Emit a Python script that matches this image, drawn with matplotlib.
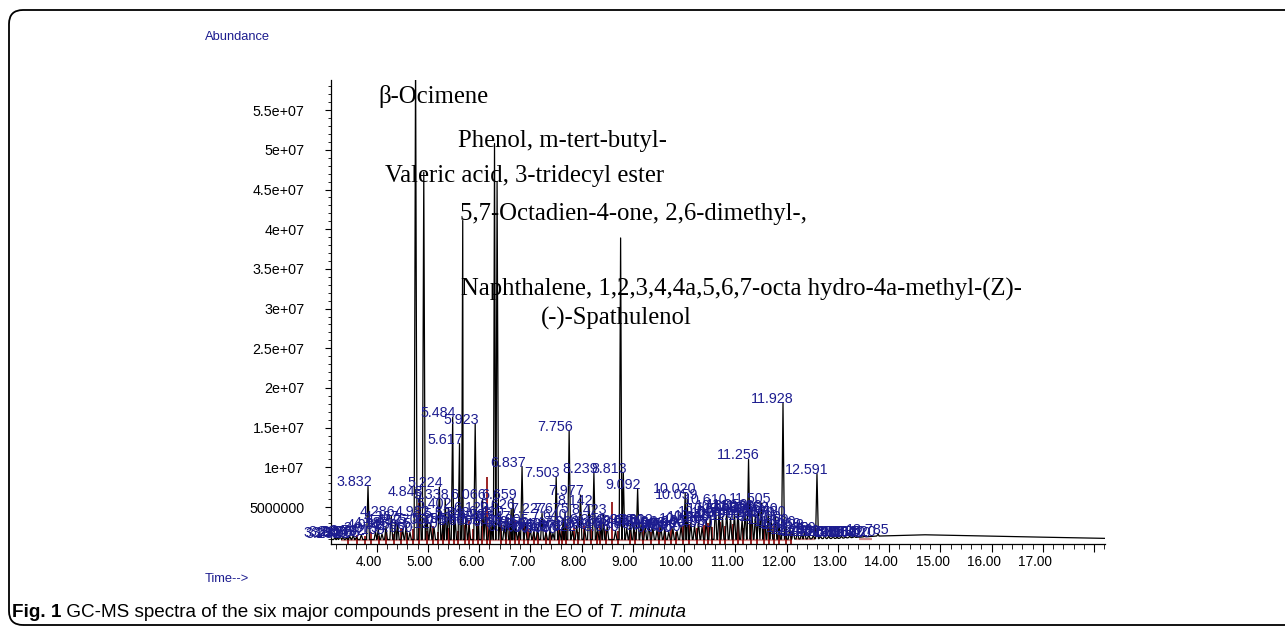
import numpy as np
import matplotlib
matplotlib.use("Agg")
import matplotlib.pyplot as plt
from matplotlib.patches import FancyBboxPatch
from matplotlib.transforms import ScaledTranslation, blended_transform_factory

# ---------------- data ----------------
compound_names = ["\u03b2-Ocimene", "Valeric acid, 3-tridecyl ester",
                  "5,7-Octadien-4-one, 2,6-dimethyl-,", "Phenol, m-tert-butyl-",
                  "Naphthalene, 1,2,3,4,4a,5,6,7-octa hydro-4a-methyl-(Z)-",
                  "(-)-Spathulenol"]
compound_rt = [4.76, 4.92, 5.68, 6.30, 6.35, 8.76]
compound_abund = [62.0e6, 47.2e6, 41.1e6, 50.8e6, 46.0e6, 38.9e6]

peak_rt = [3.190, 3.232, 3.288, 3.345, 3.412, 3.476, 3.543, 3.608, 3.702, 3.832,
           3.979, 4.031, 4.105, 4.183, 4.286, 4.367, 4.412, 4.508, 4.577, 4.650,
           4.843, 4.982, 5.050, 5.120, 5.224, 5.295, 5.338, 5.402, 5.484, 5.531,
           5.617, 5.660, 5.743, 5.806, 5.923, 5.990, 6.066, 6.120, 6.203, 6.251,
           6.410, 6.490, 6.547, 6.626, 6.659, 6.715, 6.780, 6.837, 6.905, 6.998,
           7.064, 7.140, 7.227, 7.305, 7.386, 7.440, 7.503, 7.571, 7.640, 7.675,
           7.756, 7.822, 7.903, 7.977, 8.060, 8.142, 8.239, 8.310, 8.380, 8.423,
           8.500, 8.660, 8.813, 8.880, 8.950, 9.020, 9.092, 9.160, 9.240, 9.312,
           9.390, 9.470, 9.546, 9.620, 9.700, 9.780, 9.860, 9.940, 10.020, 10.059,
           10.130, 10.203, 10.280, 10.350, 10.430, 10.510, 10.610, 10.680, 10.747, 10.830,
           10.905, 10.980, 11.050, 11.130, 11.190, 11.256, 11.320, 11.390, 11.450, 11.505,
           11.570, 11.640, 11.700, 11.780, 11.850, 11.928, 11.990, 12.060, 12.128, 12.210,
           12.290, 12.350, 12.430, 12.520, 12.591, 12.660, 12.742, 12.820, 12.905, 12.990,
           13.068, 13.150, 13.230, 13.320, 13.420, 13.520, 13.785]
peak_abund_m = [1.2, 1.1, 1.3, 1.2, 1.1, 1.3, 1.4, 1.2, 1.5, 7.6,
                1.9, 2.2, 1.6, 2.5, 3.9, 3.3, 2.8, 2.2, 2.7, 1.8,
                6.4, 3.9, 2.9, 2.4, 7.5, 3.0, 6.0, 4.9, 16.3, 3.6,
                13.0, 3.0, 3.8, 2.7, 15.5, 3.2, 6.0, 4.4, 3.5, 2.8,
                3.9, 2.6, 3.3, 4.7, 6.0, 2.5, 2.0, 10.1, 2.8, 2.2,
                1.9, 2.4, 4.2, 1.8, 2.3, 1.7, 8.8, 2.1, 3.5, 4.2,
                14.6, 2.0, 2.6, 6.5, 2.2, 5.2, 9.3, 2.4, 2.9, 4.1,
                2.6, 2.0, 9.3, 2.3, 2.9, 2.7, 7.3, 2.8, 2.6, 2.9,
                2.4, 2.1, 2.5, 2.2, 1.9, 2.3, 2.0, 2.6, 6.8, 6.0,
                3.0, 2.7, 3.2, 2.5, 3.4, 3.9, 5.4, 4.3, 3.8, 4.6,
                3.6, 4.3, 4.8, 3.4, 4.5, 11.0, 4.6, 4.0, 4.4, 5.5,
                3.8, 4.3, 3.3, 3.9, 2.8, 18.1, 2.6, 2.4, 2.2, 1.8,
                1.6, 1.9, 1.5, 1.4, 9.2, 1.3, 1.4, 1.3, 1.3, 1.3,
                1.3, 1.2, 1.3, 1.3, 1.2, 1.3, 1.6]

baseline_rt = [3.11, 6.0, 9.0, 12.0, 13.0, 13.8, 14.7, 15.8, 17.0, 18.21]
baseline_abund_m = [0.9, 0.9, 0.9, 0.95, 1.05, 1.35, 1.5, 1.35, 1.2, 1.05]

marker_rt = [3.45, 3.62, 3.78, 3.90, 4.05, 4.18, 4.33, 4.47, 4.60, 4.70,
             4.83, 4.98, 5.10, 5.19, 5.30, 5.41, 5.50, 5.58, 5.72, 5.80,
             5.88, 5.97, 6.05, 6.15, 6.22, 6.42, 6.52, 6.60, 6.70, 6.78,
             6.88, 6.95, 7.08, 7.15, 7.30, 7.38, 7.55, 7.62, 7.70, 7.85,
             7.92, 8.05, 8.18, 8.30, 8.36, 8.48, 8.59, 8.70, 8.95, 9.05,
             9.20, 9.35, 9.50, 9.63, 9.75, 9.85, 9.98, 10.10, 10.25, 10.38,
             10.47, 10.55, 10.70, 10.80, 10.95, 11.05, 11.15, 11.30, 11.42, 11.55,
             11.65, 11.75, 11.85, 11.98, 12.08]
marker_abund_m = [1.2, 1.5, 1.3, 1.8, 1.4, 2.0, 1.6, 2.4, 1.7, 2.2,
                  5.5, 2.0, 2.6, 1.8, 2.9, 2.3, 3.1, 2.0, 2.7, 3.4,
                  2.2, 2.9, 3.6, 8.8, 2.5, 3.0, 2.1, 2.8, 3.3, 1.9,
                  2.6, 2.2, 1.9, 2.5, 2.0, 1.7, 2.4, 2.0, 2.8, 2.3,
                  1.8, 2.6, 2.2, 1.9, 2.7, 2.1, 5.6, 2.0, 2.4, 1.8,
                  2.2, 1.9, 2.5, 2.0, 2.3, 1.8, 2.6, 2.9, 2.4, 2.7,
                  3.0, 2.5, 3.1, 2.6, 2.9, 3.2, 2.4, 2.8, 2.5, 2.7,
                  2.3, 2.6, 2.2, 2.0, 1.8]

segment_start = [3.30, 12.18, 13.42]
segment_end = [12.10, 12.55, 13.66]
segment_abund_m = [0.85, 1.0, 1.0]

y_ticks = [5e6, 10e6, 15e6, 20e6, 25e6, 30e6, 35e6, 40e6, 45e6, 50e6, 55e6]
y_tick_labels = ["5000000", "1e+07", "1.5e+07", "2e+07", "2.5e+07", "3e+07",
                 "3.5e+07", "4e+07", "4.5e+07", "5e+07", "5.5e+07"]
x_ticks = [4, 5, 6, 7, 8, 9, 10, 11, 12, 13, 14, 15, 16, 17]
x_tick_labels = ["4.00", "5.00", "6.00", "7.00", "8.00", "9.00", "10.00",
                 "11.00", "12.00", "13.00", "14.00", "15.00", "16.00", "17.00"]

# ---------------- figure ----------------
W, H = 1285, 632
fig = plt.figure(figsize=(W / 100, H / 100), dpi=100)
fig.patch.set_facecolor("white")
ax = fig.add_axes([331 / W, 88 / H, 774 / W, 464 / H])

BLUE = "#1c1c8f"
RED = "#8b0000"
sans = ["Liberation Sans", "DejaVu Sans"]
serif = ["Liberation Serif", "DejaVu Serif"]

# baseline integration segments
for s, e, v in zip(segment_start, segment_end, segment_abund_m):
    ax.plot([s, e], [v * 1e6, v * 1e6], color="#b04040", lw=1.6, alpha=0.6,
            solid_capstyle="butt", zorder=1)

# red markers
ax.vlines(marker_rt, 0, np.array(marker_abund_m) * 1e6, color=RED, lw=1.2, zorder=2)

# chromatogram trace
all_rt = np.array(compound_rt + peak_rt)
all_h = np.concatenate([np.array(compound_abund), np.array(peak_abund_m) * 1e6])
verts = [(r, v * 1e6) for r, v in zip(baseline_rt, baseline_abund_m)]
hw = 0.028
base_arr = np.array(baseline_abund_m) * 1e6
for r, h in zip(all_rt, all_h):
    b = float(np.interp(r, baseline_rt, base_arr))
    verts += [(r - hw, b), (r, h), (r + hw, b)]
verts.sort(key=lambda p: p[0])
vx, vy = zip(*verts)
ax.plot(vx, vy, color="black", lw=0.9, zorder=3)

# retention time labels
for r, h in zip(peak_rt, peak_abund_m):
    ax.annotate(f"{r:.3f}", xy=(r, h * 1e6), xytext=(-32, 0), textcoords="offset pixels",
                ha="left", va="baseline", fontsize=10.3, color=BLUE, family=sans,
                annotation_clip=False, zorder=4)

# compound names
name_pos = [(4.03, 55.9e6), (4.16, 45.9e6), (5.62, 41.2e6), (5.58, 50.3e6),
            (5.64, 31.7e6), (7.21, 28.0e6)]
for name, (x, y) in zip(compound_names, name_pos):
    ax.text(x, y, name, family=serif, fontsize=17.8, color="black",
            ha="left", va="baseline", zorder=5)

# axes styling
ax.set_xlim(3.11, 18.21)
ax.set_ylim(0.34e6, 58.8e6)
for sp in ["top", "right"]:
    ax.spines[sp].set_visible(False)
ax.spines["left"].set_linewidth(0.9)
ax.spines["bottom"].set_linewidth(0.9)

ax.set_yticks(y_ticks)
ax.set_yticklabels(y_tick_labels, family=sans, fontsize=10.3)
ax.set_yticks(np.arange(1e6, 58.8e6, 1e6), minor=True)
ax.tick_params(axis="y", which="major", direction="out", length=4, width=0.8, pad=15)
ax.tick_params(axis="y", which="minor", direction="out", length=2, width=0.6)

ax.set_xticks(x_ticks + [18])
ax.set_xticklabels([""] * (len(x_ticks) + 1))
ax.set_xticks(np.arange(3.2, 18.25, 0.2), minor=True)
ax.tick_params(axis="x", which="major", direction="out", length=6, width=0.8)
ax.tick_params(axis="x", which="minor", direction="out", length=3.5, width=0.6)
lab_tr = blended_transform_factory(ax.transData, ax.transAxes) + \
    ScaledTranslation(-8 / 100, -11 / 100, fig.dpi_scale_trans)
for t, l in zip(x_ticks, x_tick_labels):
    ax.text(t, 0, l, transform=lab_tr, ha="center", va="top", family=sans, fontsize=9.8)

# blue axis captions
fig.text(205 / W, 1 - 40 / H, "Abundance", color=BLUE, family=sans, fontsize=9.3,
         ha="left", va="baseline")
fig.text(205 / W, 1 - 582 / H, "Time-->", color=BLUE, family=sans, fontsize=9.3,
         ha="left", va="baseline")

# figure caption
cap_font = ["Liberation Sans", "DejaVu Sans"]
t1 = fig.text(12 / W, 15 / H, "Fig. 1", family=cap_font, fontsize=13.6, weight="bold",
              ha="left", va="baseline")
t2 = fig.text(0, 0, " GC-MS spectra of the six major compounds present in the EO of ",
              family=cap_font, fontsize=13.6)
t3 = fig.text(0, 0, "T. minuta", family=cap_font, fontsize=13.6, style="italic")
fig.canvas.draw()
r = fig.canvas.get_renderer()
bb1 = t1.get_window_extent(r)
t2.set_position(((bb1.x1) / W, 15 / H)); t2.set_va("baseline")
fig.canvas.draw()
bb2 = t2.get_window_extent(r)
t3.set_position(((bb2.x1) / W, 15 / H)); t3.set_va("baseline")

# rounded frame
frame = FancyBboxPatch((9, 7), 1320, 615, boxstyle="round,pad=0,rounding_size=14",
                       transform=None, fill=False, lw=1.3, ec="black")
fig.add_artist(frame)

fig.savefig("out.png", dpi=100)
